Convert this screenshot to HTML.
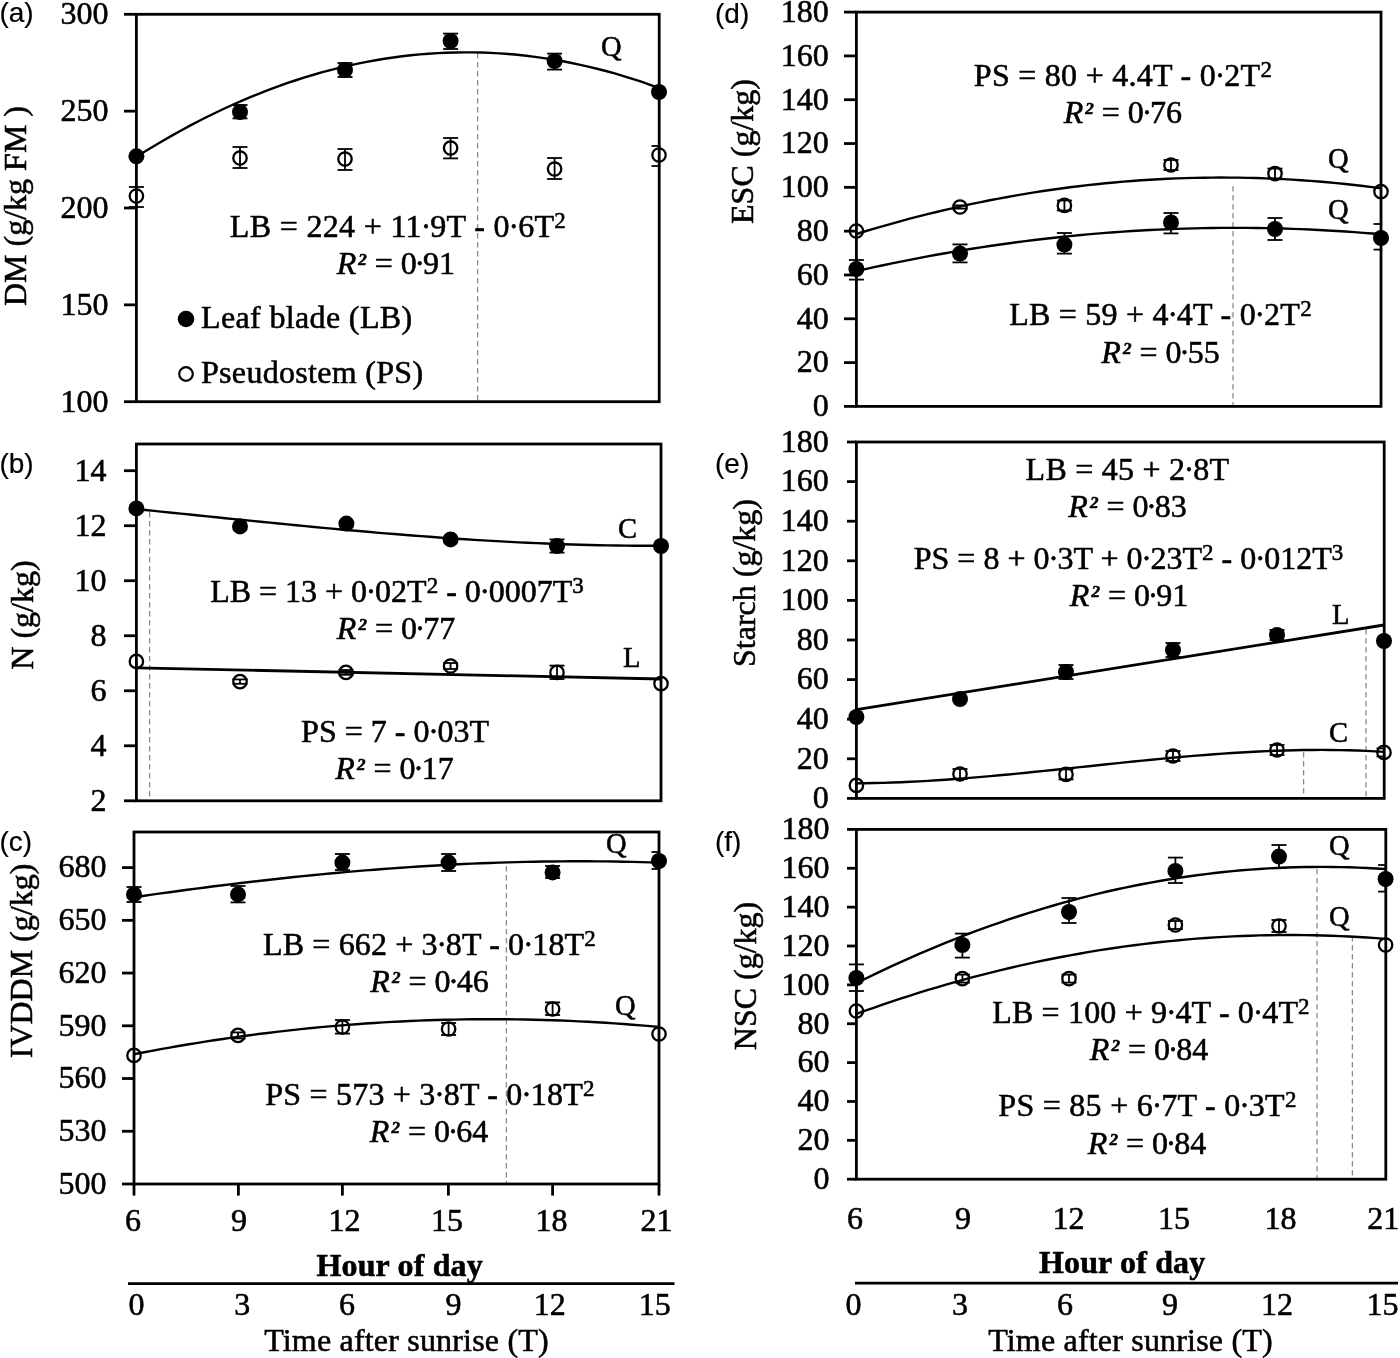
<!DOCTYPE html>
<html>
<head>
<meta charset="utf-8">
<title>Diurnal variation chart</title>
<style>
html,body{margin:0;padding:0;background:#fff;}
body{width:1400px;height:1358px;overflow:hidden;font-family:"Liberation Serif", serif;}
svg{display:block;filter:blur(0.45px);}
svg text{font-family:"Liberation Serif", serif;fill:#000;stroke:#000;stroke-width:0.55px;}
svg text.sans{font-family:"Liberation Sans", sans-serif;stroke-width:0.2px;}
</style>
</head>
<body>
<svg width="1400" height="1358" viewBox="0 0 1400 1358">
<rect x="0" y="0" width="1400" height="1358" fill="#fff"/>
<line x1="477.6" y1="53" x2="477.6" y2="401.7" stroke="#8a8a8a" stroke-width="1.3" stroke-dasharray="5.5 3.5"/>
<path d="M136.4,156.87 L145.26,151.33 L154.12,145.94 L162.97,140.71 L171.83,135.62 L180.69,130.69 L189.55,125.9 L198.4,121.27 L207.26,116.79 L216.12,112.46 L224.98,108.28 L233.83,104.24 L242.69,100.36 L251.55,96.64 L260.41,93.06 L269.26,89.63 L278.12,86.35 L286.98,83.22 L295.84,80.25 L304.69,77.42 L313.55,74.75 L322.41,72.22 L331.27,69.85 L340.13,67.63 L348.98,65.56 L357.84,63.64 L366.7,61.86 L375.56,60.24 L384.41,58.78 L393.27,57.46 L402.13,56.29 L410.99,55.27 L419.84,54.41 L428.7,53.69 L437.56,53.12 L446.42,52.71 L455.27,52.45 L464.13,52.33 L472.99,52.37 L481.85,52.56 L490.71,52.9 L499.56,53.39 L508.42,54.03 L517.28,54.82 L526.14,55.76 L534.99,56.85 L543.85,58.09 L552.71,59.49 L561.57,61.03 L570.42,62.72 L579.28,64.57 L588.14,66.57 L597,68.71 L605.85,71.01 L614.71,73.46 L623.57,76.06 L632.43,78.81 L641.28,81.71 L650.14,84.76 L659,87.96" fill="none" stroke="#000" stroke-width="2.4" stroke-linejoin="round"/>
<rect x="136.4" y="14.3" width="522.8" height="387.4" fill="none" stroke="#000" stroke-width="2.8"/>
<line x1="124" y1="14.3" x2="136.4" y2="14.3" stroke="#000" stroke-width="2.8" />
<text x="108.6" y="24.1" font-size="32" text-anchor="end" font-weight="normal" font-style="normal" >300</text>
<line x1="124" y1="111.15" x2="136.4" y2="111.15" stroke="#000" stroke-width="2.8" />
<text x="108.6" y="120.95" font-size="32" text-anchor="end" font-weight="normal" font-style="normal" >250</text>
<line x1="124" y1="208" x2="136.4" y2="208" stroke="#000" stroke-width="2.8" />
<text x="108.6" y="217.8" font-size="32" text-anchor="end" font-weight="normal" font-style="normal" >200</text>
<line x1="124" y1="304.85" x2="136.4" y2="304.85" stroke="#000" stroke-width="2.8" />
<text x="108.6" y="314.65" font-size="32" text-anchor="end" font-weight="normal" font-style="normal" >150</text>
<line x1="124" y1="401.7" x2="136.4" y2="401.7" stroke="#000" stroke-width="2.8" />
<text x="108.6" y="411.5" font-size="32" text-anchor="end" font-weight="normal" font-style="normal" >100</text>
<circle cx="136.4" cy="196" r="6.7" fill="none" stroke="#000" stroke-width="2.3"/>
<line x1="136.4" y1="187" x2="136.4" y2="207" stroke="#000" stroke-width="1.8" />
<line x1="128.9" y1="187" x2="143.9" y2="187" stroke="#000" stroke-width="1.8" />
<line x1="128.9" y1="207" x2="143.9" y2="207" stroke="#000" stroke-width="1.8" />
<circle cx="240" cy="158" r="6.7" fill="none" stroke="#000" stroke-width="2.3"/>
<line x1="240" y1="147" x2="240" y2="168" stroke="#000" stroke-width="1.8" />
<line x1="232.5" y1="147" x2="247.5" y2="147" stroke="#000" stroke-width="1.8" />
<line x1="232.5" y1="168" x2="247.5" y2="168" stroke="#000" stroke-width="1.8" />
<circle cx="345" cy="159" r="6.7" fill="none" stroke="#000" stroke-width="2.3"/>
<line x1="345" y1="149" x2="345" y2="170" stroke="#000" stroke-width="1.8" />
<line x1="337.5" y1="149" x2="352.5" y2="149" stroke="#000" stroke-width="1.8" />
<line x1="337.5" y1="170" x2="352.5" y2="170" stroke="#000" stroke-width="1.8" />
<circle cx="450.6" cy="148" r="6.7" fill="none" stroke="#000" stroke-width="2.3"/>
<line x1="450.6" y1="138" x2="450.6" y2="158.4" stroke="#000" stroke-width="1.8" />
<line x1="443.1" y1="138" x2="458.1" y2="138" stroke="#000" stroke-width="1.8" />
<line x1="443.1" y1="158.4" x2="458.1" y2="158.4" stroke="#000" stroke-width="1.8" />
<circle cx="554.6" cy="169" r="6.7" fill="none" stroke="#000" stroke-width="2.3"/>
<line x1="554.6" y1="158" x2="554.6" y2="179" stroke="#000" stroke-width="1.8" />
<line x1="547.1" y1="158" x2="562.1" y2="158" stroke="#000" stroke-width="1.8" />
<line x1="547.1" y1="179" x2="562.1" y2="179" stroke="#000" stroke-width="1.8" />
<circle cx="659" cy="155" r="6.7" fill="none" stroke="#000" stroke-width="2.3"/>
<line x1="659" y1="146" x2="659" y2="166" stroke="#000" stroke-width="1.8" />
<line x1="651.5" y1="146" x2="660.4" y2="146" stroke="#000" stroke-width="1.8" />
<line x1="651.5" y1="166" x2="660.4" y2="166" stroke="#000" stroke-width="1.8" />
<circle cx="136.4" cy="156.3" r="8.0" fill="#000"/>
<line x1="240" y1="105" x2="240" y2="118.4" stroke="#000" stroke-width="1.8" />
<line x1="232.5" y1="105" x2="247.5" y2="105" stroke="#000" stroke-width="1.8" />
<line x1="232.5" y1="118.4" x2="247.5" y2="118.4" stroke="#000" stroke-width="1.8" />
<circle cx="240" cy="112" r="8.0" fill="#000"/>
<line x1="345" y1="63" x2="345" y2="77" stroke="#000" stroke-width="1.8" />
<line x1="337.5" y1="63" x2="352.5" y2="63" stroke="#000" stroke-width="1.8" />
<line x1="337.5" y1="77" x2="352.5" y2="77" stroke="#000" stroke-width="1.8" />
<circle cx="345" cy="70" r="8.0" fill="#000"/>
<line x1="450.6" y1="33.6" x2="450.6" y2="49" stroke="#000" stroke-width="1.8" />
<line x1="443.1" y1="33.6" x2="458.1" y2="33.6" stroke="#000" stroke-width="1.8" />
<line x1="443.1" y1="49" x2="458.1" y2="49" stroke="#000" stroke-width="1.8" />
<circle cx="450.6" cy="41" r="8.0" fill="#000"/>
<line x1="554.6" y1="53.6" x2="554.6" y2="69.6" stroke="#000" stroke-width="1.8" />
<line x1="547.1" y1="53.6" x2="562.1" y2="53.6" stroke="#000" stroke-width="1.8" />
<line x1="547.1" y1="69.6" x2="562.1" y2="69.6" stroke="#000" stroke-width="1.8" />
<circle cx="554.6" cy="61" r="8.0" fill="#000"/>
<circle cx="659" cy="92" r="8.0" fill="#000"/>
<text x="601" y="56" font-size="28.5" text-anchor="start" font-weight="normal" font-style="normal" >Q</text>
<text x="398" y="237" font-size="32" text-anchor="middle" font-weight="normal" font-style="normal"  style="letter-spacing:0.33px">LB = 224 + 11&#8729;9T - 0&#8729;6T<tspan font-size="23" dy="-9">2</tspan><tspan dy="9" font-size="1">&#8203;</tspan></text>
<text x="395.8" y="274" font-size="32" text-anchor="middle" font-weight="normal" font-style="normal" ><tspan font-style="italic">R</tspan><tspan font-style="italic" font-weight="bold" font-size="17" dx="2" dy="-9">2</tspan><tspan dy="9"> = 0</tspan><tspan dx="-0.9">&#8729;</tspan><tspan dx="-0.9">91</tspan></text>
<circle cx="186" cy="319" r="8.3" fill="#000"/>
<text x="201" y="328" font-size="32" text-anchor="start" font-weight="normal" font-style="normal"  style="letter-spacing:0.36px">Leaf blade (LB)</text>
<circle cx="186" cy="374" r="6.8" fill="none" stroke="#000" stroke-width="2.2"/>
<text x="201" y="383" font-size="32" text-anchor="start" font-weight="normal" font-style="normal"  style="letter-spacing:0.31px">Pseudostem (PS)</text>
<text transform="translate(25.6,206) rotate(-90)" font-size="32" text-anchor="middle">DM (g/kg FM )</text>
<text x="-0.6" y="22.2" font-size="28" class="sans">(a)</text>
<line x1="149.6" y1="512" x2="149.6" y2="800.8" stroke="#8a8a8a" stroke-width="1.3" stroke-dasharray="5.5 3.5"/>
<path d="M136.4,509.09 L145.29,509.99 L154.18,510.91 L163.07,511.82 L171.97,512.73 L180.86,513.65 L189.75,514.56 L198.64,515.48 L207.53,516.39 L216.42,517.3 L225.32,518.21 L234.21,519.11 L243.1,520.01 L251.99,520.91 L260.88,521.8 L269.77,522.68 L278.66,523.56 L287.56,524.43 L296.45,525.29 L305.34,526.14 L314.23,526.99 L323.12,527.82 L332.01,528.65 L340.91,529.46 L349.8,530.26 L358.69,531.05 L367.58,531.82 L376.47,532.58 L385.36,533.33 L394.25,534.06 L403.15,534.78 L412.04,535.48 L420.93,536.16 L429.82,536.82 L438.71,537.47 L447.6,538.09 L456.49,538.7 L465.39,539.29 L474.28,539.85 L483.17,540.4 L492.06,540.92 L500.95,541.42 L509.84,541.89 L518.74,542.34 L527.63,542.77 L536.52,543.17 L545.41,543.54 L554.3,543.89 L563.19,544.21 L572.08,544.5 L580.98,544.76 L589.87,544.99 L598.76,545.19 L607.65,545.36 L616.54,545.5 L625.43,545.61 L634.33,545.69 L643.22,545.73 L652.11,545.73 L661,545.71" fill="none" stroke="#000" stroke-width="2.4" stroke-linejoin="round"/>
<line x1="136.4" y1="667.8" x2="661" y2="679" stroke="#000" stroke-width="2.8" />
<rect x="136.4" y="444" width="524.6" height="356.8" fill="none" stroke="#000" stroke-width="2.8"/>
<line x1="124" y1="470.7" x2="136.4" y2="470.7" stroke="#000" stroke-width="2.8" />
<text x="106.5" y="480.5" font-size="32" text-anchor="end" font-weight="normal" font-style="normal" >14</text>
<line x1="124" y1="525.72" x2="136.4" y2="525.72" stroke="#000" stroke-width="2.8" />
<text x="106.5" y="535.52" font-size="32" text-anchor="end" font-weight="normal" font-style="normal" >12</text>
<line x1="124" y1="580.73" x2="136.4" y2="580.73" stroke="#000" stroke-width="2.8" />
<text x="106.5" y="590.53" font-size="32" text-anchor="end" font-weight="normal" font-style="normal" >10</text>
<line x1="124" y1="635.75" x2="136.4" y2="635.75" stroke="#000" stroke-width="2.8" />
<text x="106.5" y="645.55" font-size="32" text-anchor="end" font-weight="normal" font-style="normal" >8</text>
<line x1="124" y1="690.77" x2="136.4" y2="690.77" stroke="#000" stroke-width="2.8" />
<text x="106.5" y="700.57" font-size="32" text-anchor="end" font-weight="normal" font-style="normal" >6</text>
<line x1="124" y1="745.78" x2="136.4" y2="745.78" stroke="#000" stroke-width="2.8" />
<text x="106.5" y="755.58" font-size="32" text-anchor="end" font-weight="normal" font-style="normal" >4</text>
<line x1="124" y1="800.8" x2="136.4" y2="800.8" stroke="#000" stroke-width="2.8" />
<text x="106.5" y="810.6" font-size="32" text-anchor="end" font-weight="normal" font-style="normal" >2</text>
<circle cx="136.4" cy="661.4" r="6.7" fill="none" stroke="#000" stroke-width="2.3"/>
<circle cx="240" cy="681.6" r="6.7" fill="none" stroke="#000" stroke-width="2.3"/>
<line x1="240" y1="679.4" x2="240" y2="683.8" stroke="#000" stroke-width="1.8" />
<line x1="232.5" y1="679.4" x2="247.5" y2="679.4" stroke="#000" stroke-width="1.8" />
<line x1="232.5" y1="683.8" x2="247.5" y2="683.8" stroke="#000" stroke-width="1.8" />
<circle cx="346" cy="672.4" r="6.7" fill="none" stroke="#000" stroke-width="2.3"/>
<line x1="346" y1="670" x2="346" y2="674.8" stroke="#000" stroke-width="1.8" />
<line x1="338.5" y1="670" x2="353.5" y2="670" stroke="#000" stroke-width="1.8" />
<line x1="338.5" y1="674.8" x2="353.5" y2="674.8" stroke="#000" stroke-width="1.8" />
<circle cx="450.6" cy="666" r="6.7" fill="none" stroke="#000" stroke-width="2.3"/>
<line x1="450.6" y1="663" x2="450.6" y2="669" stroke="#000" stroke-width="1.8" />
<line x1="443.1" y1="663" x2="458.1" y2="663" stroke="#000" stroke-width="1.8" />
<line x1="443.1" y1="669" x2="458.1" y2="669" stroke="#000" stroke-width="1.8" />
<circle cx="557" cy="672.4" r="6.7" fill="none" stroke="#000" stroke-width="2.3"/>
<line x1="557" y1="665.6" x2="557" y2="679" stroke="#000" stroke-width="1.8" />
<line x1="549.5" y1="665.6" x2="564.5" y2="665.6" stroke="#000" stroke-width="1.8" />
<line x1="549.5" y1="679" x2="564.5" y2="679" stroke="#000" stroke-width="1.8" />
<circle cx="661" cy="683.6" r="6.7" fill="none" stroke="#000" stroke-width="2.3"/>
<circle cx="136.4" cy="508.4" r="8.0" fill="#000"/>
<circle cx="240" cy="526.4" r="8.0" fill="#000"/>
<circle cx="346.4" cy="523.6" r="8.0" fill="#000"/>
<circle cx="450.6" cy="539.4" r="8.0" fill="#000"/>
<line x1="557" y1="539.4" x2="557" y2="552.6" stroke="#000" stroke-width="1.8" />
<line x1="549.5" y1="539.4" x2="564.5" y2="539.4" stroke="#000" stroke-width="1.8" />
<line x1="549.5" y1="552.6" x2="564.5" y2="552.6" stroke="#000" stroke-width="1.8" />
<circle cx="557" cy="546" r="8.0" fill="#000"/>
<circle cx="661" cy="546" r="8.0" fill="#000"/>
<text x="618" y="538" font-size="28.5" text-anchor="start" font-weight="normal" font-style="normal" >C</text>
<text x="623" y="666.5" font-size="28.5" text-anchor="start" font-weight="normal" font-style="normal" >L</text>
<text x="397" y="602" font-size="32" text-anchor="middle" font-weight="normal" font-style="normal" >LB = 13 + 0&#8729;02T<tspan font-size="23" dy="-9">2</tspan><tspan dy="9" font-size="1">&#8203;</tspan> - 0&#8729;0007T<tspan font-size="23" dy="-9">3</tspan><tspan dy="9" font-size="1">&#8203;</tspan></text>
<text x="396" y="639" font-size="32" text-anchor="middle" font-weight="normal" font-style="normal" ><tspan font-style="italic">R</tspan><tspan font-style="italic" font-weight="bold" font-size="17" dx="2" dy="-9">2</tspan><tspan dy="9"> = 0</tspan><tspan dx="-0.9">&#8729;</tspan><tspan dx="-0.9">77</tspan></text>
<text x="395" y="741.6" font-size="32" text-anchor="middle" font-weight="normal" font-style="normal" >PS = 7 - 0&#8729;03T</text>
<text x="394.5" y="779" font-size="32" text-anchor="middle" font-weight="normal" font-style="normal" ><tspan font-style="italic">R</tspan><tspan font-style="italic" font-weight="bold" font-size="17" dx="2" dy="-9">2</tspan><tspan dy="9"> = 0</tspan><tspan dx="-0.9">&#8729;</tspan><tspan dx="-0.9">17</tspan></text>
<text transform="translate(33,615) rotate(-90)" font-size="32" text-anchor="middle">N (g/kg)</text>
<text x="-0.6" y="472.8" font-size="28" class="sans">(b)</text>
<line x1="506.4" y1="866" x2="506.4" y2="1184" stroke="#8a8a8a" stroke-width="1.3" stroke-dasharray="5.5 3.5"/>
<path d="M134,897.24 L142.9,895.95 L151.8,894.68 L160.69,893.43 L169.59,892.19 L178.49,890.98 L187.39,889.78 L196.29,888.61 L205.19,887.45 L214.08,886.31 L222.98,885.2 L231.88,884.1 L240.78,883.03 L249.68,881.98 L258.58,880.95 L267.47,879.94 L276.37,878.95 L285.27,877.99 L294.17,877.05 L303.07,876.14 L311.97,875.25 L320.86,874.38 L329.76,873.53 L338.66,872.72 L347.56,871.92 L356.46,871.16 L365.36,870.41 L374.25,869.7 L383.15,869.01 L392.05,868.35 L400.95,867.71 L409.85,867.11 L418.75,866.53 L427.64,865.98 L436.54,865.46 L445.44,864.96 L454.34,864.5 L463.24,864.06 L472.14,863.66 L481.03,863.29 L489.93,862.94 L498.83,862.63 L507.73,862.35 L516.63,862.1 L525.53,861.88 L534.42,861.7 L543.32,861.55 L552.22,861.43 L561.12,861.34 L570.02,861.29 L578.92,861.27 L587.81,861.28 L596.71,861.34 L605.61,861.42 L614.51,861.54 L623.41,861.7 L632.31,861.89 L641.2,862.12 L650.1,862.39 L659,862.69" fill="none" stroke="#000" stroke-width="2.4" stroke-linejoin="round"/>
<path d="M134,1054.23 L142.9,1052.5 L151.8,1050.82 L160.69,1049.19 L169.59,1047.59 L178.49,1046.04 L187.39,1044.54 L196.29,1043.07 L205.19,1041.65 L214.08,1040.28 L222.98,1038.95 L231.88,1037.66 L240.78,1036.41 L249.68,1035.21 L258.58,1034.05 L267.47,1032.94 L276.37,1031.86 L285.27,1030.84 L294.17,1029.85 L303.07,1028.91 L311.97,1028.01 L320.86,1027.16 L329.76,1026.35 L338.66,1025.58 L347.56,1024.86 L356.46,1024.18 L365.36,1023.54 L374.25,1022.95 L383.15,1022.4 L392.05,1021.9 L400.95,1021.44 L409.85,1021.02 L418.75,1020.64 L427.64,1020.31 L436.54,1020.02 L445.44,1019.78 L454.34,1019.58 L463.24,1019.42 L472.14,1019.31 L481.03,1019.23 L489.93,1019.21 L498.83,1019.22 L507.73,1019.28 L516.63,1019.39 L525.53,1019.54 L534.42,1019.73 L543.32,1019.96 L552.22,1020.24 L561.12,1020.56 L570.02,1020.92 L578.92,1021.33 L587.81,1021.78 L596.71,1022.28 L605.61,1022.82 L614.51,1023.4 L623.41,1024.03 L632.31,1024.7 L641.2,1025.41 L650.1,1026.17 L659,1026.97" fill="none" stroke="#000" stroke-width="2.4" stroke-linejoin="round"/>
<rect x="134" y="832" width="525" height="352" fill="none" stroke="#000" stroke-width="2.8"/>
<line x1="122" y1="867.6" x2="134" y2="867.6" stroke="#000" stroke-width="2.8" />
<text x="106.5" y="877.4" font-size="32" text-anchor="end" font-weight="normal" font-style="normal" >680</text>
<line x1="122" y1="920.33" x2="134" y2="920.33" stroke="#000" stroke-width="2.8" />
<text x="106.5" y="930.13" font-size="32" text-anchor="end" font-weight="normal" font-style="normal" >650</text>
<line x1="122" y1="973.07" x2="134" y2="973.07" stroke="#000" stroke-width="2.8" />
<text x="106.5" y="982.87" font-size="32" text-anchor="end" font-weight="normal" font-style="normal" >620</text>
<line x1="122" y1="1025.8" x2="134" y2="1025.8" stroke="#000" stroke-width="2.8" />
<text x="106.5" y="1035.6" font-size="32" text-anchor="end" font-weight="normal" font-style="normal" >590</text>
<line x1="122" y1="1078.53" x2="134" y2="1078.53" stroke="#000" stroke-width="2.8" />
<text x="106.5" y="1088.33" font-size="32" text-anchor="end" font-weight="normal" font-style="normal" >560</text>
<line x1="122" y1="1131.27" x2="134" y2="1131.27" stroke="#000" stroke-width="2.8" />
<text x="106.5" y="1141.07" font-size="32" text-anchor="end" font-weight="normal" font-style="normal" >530</text>
<line x1="122" y1="1184" x2="134" y2="1184" stroke="#000" stroke-width="2.8" />
<text x="106.5" y="1193.8" font-size="32" text-anchor="end" font-weight="normal" font-style="normal" >500</text>
<line x1="134" y1="1184" x2="134" y2="1195.6" stroke="#000" stroke-width="2.8" />
<line x1="238.4" y1="1184" x2="238.4" y2="1195.6" stroke="#000" stroke-width="2.8" />
<line x1="342.4" y1="1184" x2="342.4" y2="1195.6" stroke="#000" stroke-width="2.8" />
<line x1="448.4" y1="1184" x2="448.4" y2="1195.6" stroke="#000" stroke-width="2.8" />
<line x1="552.6" y1="1184" x2="552.6" y2="1195.6" stroke="#000" stroke-width="2.8" />
<line x1="659" y1="1184" x2="659" y2="1195.6" stroke="#000" stroke-width="2.8" />
<text x="133" y="1231.4" font-size="32" text-anchor="middle" font-weight="normal" font-style="normal" >6</text>
<text x="238.9" y="1231.4" font-size="32" text-anchor="middle" font-weight="normal" font-style="normal" >9</text>
<text x="344.4" y="1231.4" font-size="32" text-anchor="middle" font-weight="normal" font-style="normal" >12</text>
<text x="447" y="1231.4" font-size="32" text-anchor="middle" font-weight="normal" font-style="normal" >15</text>
<text x="551.6" y="1231.4" font-size="32" text-anchor="middle" font-weight="normal" font-style="normal" >18</text>
<text x="656.5" y="1231.4" font-size="32" text-anchor="middle" font-weight="normal" font-style="normal" >21</text>
<circle cx="134" cy="1055.4" r="6.7" fill="none" stroke="#000" stroke-width="2.3"/>
<circle cx="238" cy="1035.4" r="6.7" fill="none" stroke="#000" stroke-width="2.3"/>
<line x1="238" y1="1032.4" x2="238" y2="1038.4" stroke="#000" stroke-width="1.8" />
<line x1="230.5" y1="1032.4" x2="245.5" y2="1032.4" stroke="#000" stroke-width="1.8" />
<line x1="230.5" y1="1038.4" x2="245.5" y2="1038.4" stroke="#000" stroke-width="1.8" />
<circle cx="342.4" cy="1027" r="6.7" fill="none" stroke="#000" stroke-width="2.3"/>
<line x1="342.4" y1="1020" x2="342.4" y2="1033.6" stroke="#000" stroke-width="1.8" />
<line x1="334.9" y1="1020" x2="349.9" y2="1020" stroke="#000" stroke-width="1.8" />
<line x1="334.9" y1="1033.6" x2="349.9" y2="1033.6" stroke="#000" stroke-width="1.8" />
<circle cx="448.6" cy="1029" r="6.7" fill="none" stroke="#000" stroke-width="2.3"/>
<line x1="448.6" y1="1023" x2="448.6" y2="1035" stroke="#000" stroke-width="1.8" />
<line x1="441.1" y1="1023" x2="456.1" y2="1023" stroke="#000" stroke-width="1.8" />
<line x1="441.1" y1="1035" x2="456.1" y2="1035" stroke="#000" stroke-width="1.8" />
<circle cx="552.6" cy="1009" r="6.7" fill="none" stroke="#000" stroke-width="2.3"/>
<line x1="552.6" y1="1002.4" x2="552.6" y2="1015" stroke="#000" stroke-width="1.8" />
<line x1="545.1" y1="1002.4" x2="560.1" y2="1002.4" stroke="#000" stroke-width="1.8" />
<line x1="545.1" y1="1015" x2="560.1" y2="1015" stroke="#000" stroke-width="1.8" />
<circle cx="659" cy="1034" r="6.7" fill="none" stroke="#000" stroke-width="2.3"/>
<line x1="134" y1="887" x2="134" y2="902" stroke="#000" stroke-width="1.8" />
<line x1="126.5" y1="887" x2="141.5" y2="887" stroke="#000" stroke-width="1.8" />
<line x1="126.5" y1="902" x2="141.5" y2="902" stroke="#000" stroke-width="1.8" />
<circle cx="134" cy="894.4" r="8.0" fill="#000"/>
<line x1="238" y1="886" x2="238" y2="902.4" stroke="#000" stroke-width="1.8" />
<line x1="230.5" y1="886" x2="245.5" y2="886" stroke="#000" stroke-width="1.8" />
<line x1="230.5" y1="902.4" x2="245.5" y2="902.4" stroke="#000" stroke-width="1.8" />
<circle cx="238" cy="894.4" r="8.0" fill="#000"/>
<line x1="342.4" y1="854" x2="342.4" y2="870" stroke="#000" stroke-width="1.8" />
<line x1="334.9" y1="854" x2="349.9" y2="854" stroke="#000" stroke-width="1.8" />
<line x1="334.9" y1="870" x2="349.9" y2="870" stroke="#000" stroke-width="1.8" />
<circle cx="342.4" cy="862.6" r="8.0" fill="#000"/>
<line x1="448.6" y1="854" x2="448.6" y2="871" stroke="#000" stroke-width="1.8" />
<line x1="441.1" y1="854" x2="456.1" y2="854" stroke="#000" stroke-width="1.8" />
<line x1="441.1" y1="871" x2="456.1" y2="871" stroke="#000" stroke-width="1.8" />
<circle cx="448.6" cy="862.6" r="8.0" fill="#000"/>
<line x1="552.6" y1="866" x2="552.6" y2="878" stroke="#000" stroke-width="1.8" />
<line x1="545.1" y1="866" x2="560.1" y2="866" stroke="#000" stroke-width="1.8" />
<line x1="545.1" y1="878" x2="560.1" y2="878" stroke="#000" stroke-width="1.8" />
<circle cx="552.6" cy="872.4" r="8.0" fill="#000"/>
<line x1="659" y1="852" x2="659" y2="869" stroke="#000" stroke-width="1.8" />
<line x1="651.5" y1="852" x2="660.2" y2="852" stroke="#000" stroke-width="1.8" />
<line x1="651.5" y1="869" x2="660.2" y2="869" stroke="#000" stroke-width="1.8" />
<circle cx="659" cy="861" r="8.0" fill="#000"/>
<text x="606" y="853" font-size="28.5" text-anchor="start" font-weight="normal" font-style="normal" >Q</text>
<text x="615" y="1015" font-size="28.5" text-anchor="start" font-weight="normal" font-style="normal" >Q</text>
<text x="429.5" y="955" font-size="32" text-anchor="middle" font-weight="normal" font-style="normal"  style="letter-spacing:0.13px">LB = 662 + 3&#8729;8T - 0&#8729;18T<tspan font-size="23" dy="-9">2</tspan><tspan dy="9" font-size="1">&#8203;</tspan></text>
<text x="429.5" y="992" font-size="32" text-anchor="middle" font-weight="normal" font-style="normal" ><tspan font-style="italic">R</tspan><tspan font-style="italic" font-weight="bold" font-size="17" dx="2" dy="-9">2</tspan><tspan dy="9"> = 0</tspan><tspan dx="-0.9">&#8729;</tspan><tspan dx="-0.9">46</tspan></text>
<text x="430" y="1105" font-size="32" text-anchor="middle" font-weight="normal" font-style="normal"  style="letter-spacing:0.21px">PS = 573 + 3&#8729;8T - 0&#8729;18T<tspan font-size="23" dy="-9">2</tspan><tspan dy="9" font-size="1">&#8203;</tspan></text>
<text x="429" y="1142.4" font-size="32" text-anchor="middle" font-weight="normal" font-style="normal" ><tspan font-style="italic">R</tspan><tspan font-style="italic" font-weight="bold" font-size="17" dx="2" dy="-9">2</tspan><tspan dy="9"> = 0</tspan><tspan dx="-0.9">&#8729;</tspan><tspan dx="-0.9">64</tspan></text>
<text transform="translate(31.8,961) rotate(-90)" font-size="32" text-anchor="middle">IVDDM (g/kg)</text>
<text x="-0.6" y="850.9" font-size="28" class="sans">(c)</text>
<line x1="1233" y1="186" x2="1233" y2="406.4" stroke="#8a8a8a" stroke-width="1.3" stroke-dasharray="5.5 3.5"/>
<path d="M856.4,233.98 L865.29,231.27 L874.18,228.62 L883.07,226.04 L891.97,223.53 L900.86,221.09 L909.75,218.71 L918.64,216.39 L927.53,214.15 L936.42,211.97 L945.32,209.86 L954.21,207.81 L963.1,205.84 L971.99,203.93 L980.88,202.08 L989.77,200.3 L998.66,198.59 L1007.56,196.95 L1016.45,195.37 L1025.34,193.86 L1034.23,192.42 L1043.12,191.04 L1052.01,189.73 L1060.91,188.49 L1069.8,187.31 L1078.69,186.21 L1087.58,185.16 L1096.47,184.19 L1105.36,183.28 L1114.25,182.44 L1123.15,181.66 L1132.04,180.95 L1140.93,180.31 L1149.82,179.74 L1158.71,179.23 L1167.6,178.79 L1176.49,178.42 L1185.39,178.11 L1194.28,177.87 L1203.17,177.7 L1212.06,177.59 L1220.95,177.55 L1229.84,177.58 L1238.74,177.67 L1247.63,177.83 L1256.52,178.06 L1265.41,178.35 L1274.3,178.72 L1283.19,179.14 L1292.08,179.64 L1300.98,180.2 L1309.87,180.83 L1318.76,181.53 L1327.65,182.29 L1336.54,183.12 L1345.43,184.01 L1354.33,184.98 L1363.22,186.01 L1372.11,187.1 L1381,188.27" fill="none" stroke="#000" stroke-width="2.4" stroke-linejoin="round"/>
<path d="M856.4,271.17 L865.29,269.16 L874.18,267.19 L883.07,265.28 L891.97,263.41 L900.86,261.59 L909.75,259.81 L918.64,258.09 L927.53,256.41 L936.42,254.78 L945.32,253.2 L954.21,251.67 L963.1,250.18 L971.99,248.74 L980.88,247.35 L989.77,246.01 L998.66,244.71 L1007.56,243.47 L1016.45,242.27 L1025.34,241.12 L1034.23,240.01 L1043.12,238.96 L1052.01,237.95 L1060.91,236.99 L1069.8,236.08 L1078.69,235.22 L1087.58,234.4 L1096.47,233.63 L1105.36,232.91 L1114.25,232.24 L1123.15,231.61 L1132.04,231.04 L1140.93,230.51 L1149.82,230.03 L1158.71,229.59 L1167.6,229.21 L1176.49,228.87 L1185.39,228.58 L1194.28,228.34 L1203.17,228.14 L1212.06,228 L1220.95,227.9 L1229.84,227.85 L1238.74,227.85 L1247.63,227.89 L1256.52,227.98 L1265.41,228.13 L1274.3,228.31 L1283.19,228.55 L1292.08,228.83 L1300.98,229.17 L1309.87,229.55 L1318.76,229.97 L1327.65,230.45 L1336.54,230.97 L1345.43,231.55 L1354.33,232.16 L1363.22,232.83 L1372.11,233.55 L1381,234.31" fill="none" stroke="#000" stroke-width="2.4" stroke-linejoin="round"/>
<rect x="856.4" y="12.1" width="524.6" height="394.3" fill="none" stroke="#000" stroke-width="2.8"/>
<line x1="844" y1="12.1" x2="856.4" y2="12.1" stroke="#000" stroke-width="2.8" />
<text x="828.7" y="21.9" font-size="32" text-anchor="end" font-weight="normal" font-style="normal" >180</text>
<line x1="844" y1="55.91" x2="856.4" y2="55.91" stroke="#000" stroke-width="2.8" />
<text x="828.7" y="65.71" font-size="32" text-anchor="end" font-weight="normal" font-style="normal" >160</text>
<line x1="844" y1="99.72" x2="856.4" y2="99.72" stroke="#000" stroke-width="2.8" />
<text x="828.7" y="109.52" font-size="32" text-anchor="end" font-weight="normal" font-style="normal" >140</text>
<line x1="844" y1="143.53" x2="856.4" y2="143.53" stroke="#000" stroke-width="2.8" />
<text x="828.7" y="153.33" font-size="32" text-anchor="end" font-weight="normal" font-style="normal" >120</text>
<line x1="844" y1="187.34" x2="856.4" y2="187.34" stroke="#000" stroke-width="2.8" />
<text x="828.7" y="197.14" font-size="32" text-anchor="end" font-weight="normal" font-style="normal" >100</text>
<line x1="844" y1="231.16" x2="856.4" y2="231.16" stroke="#000" stroke-width="2.8" />
<text x="828.7" y="240.96" font-size="32" text-anchor="end" font-weight="normal" font-style="normal" >80</text>
<line x1="844" y1="274.97" x2="856.4" y2="274.97" stroke="#000" stroke-width="2.8" />
<text x="828.7" y="284.77" font-size="32" text-anchor="end" font-weight="normal" font-style="normal" >60</text>
<line x1="844" y1="318.78" x2="856.4" y2="318.78" stroke="#000" stroke-width="2.8" />
<text x="828.7" y="328.58" font-size="32" text-anchor="end" font-weight="normal" font-style="normal" >40</text>
<line x1="844" y1="362.59" x2="856.4" y2="362.59" stroke="#000" stroke-width="2.8" />
<text x="828.7" y="372.39" font-size="32" text-anchor="end" font-weight="normal" font-style="normal" >20</text>
<line x1="844" y1="406.4" x2="856.4" y2="406.4" stroke="#000" stroke-width="2.8" />
<text x="828.7" y="416.2" font-size="32" text-anchor="end" font-weight="normal" font-style="normal" >0</text>
<circle cx="856.4" cy="231" r="6.7" fill="none" stroke="#000" stroke-width="2.3"/>
<circle cx="960" cy="207" r="6.7" fill="none" stroke="#000" stroke-width="2.3"/>
<line x1="960" y1="205.4" x2="960" y2="208.6" stroke="#000" stroke-width="1.8" />
<line x1="952.5" y1="205.4" x2="967.5" y2="205.4" stroke="#000" stroke-width="1.8" />
<line x1="952.5" y1="208.6" x2="967.5" y2="208.6" stroke="#000" stroke-width="1.8" />
<circle cx="1064.4" cy="205.4" r="6.7" fill="none" stroke="#000" stroke-width="2.3"/>
<line x1="1064.4" y1="200.5" x2="1064.4" y2="210.5" stroke="#000" stroke-width="1.8" />
<line x1="1056.9" y1="200.5" x2="1071.9" y2="200.5" stroke="#000" stroke-width="1.8" />
<line x1="1056.9" y1="210.5" x2="1071.9" y2="210.5" stroke="#000" stroke-width="1.8" />
<circle cx="1171" cy="165" r="6.7" fill="none" stroke="#000" stroke-width="2.3"/>
<line x1="1171" y1="160" x2="1171" y2="170" stroke="#000" stroke-width="1.8" />
<line x1="1163.5" y1="160" x2="1178.5" y2="160" stroke="#000" stroke-width="1.8" />
<line x1="1163.5" y1="170" x2="1178.5" y2="170" stroke="#000" stroke-width="1.8" />
<circle cx="1275" cy="173.6" r="6.7" fill="none" stroke="#000" stroke-width="2.3"/>
<line x1="1275" y1="168.6" x2="1275" y2="178.6" stroke="#000" stroke-width="1.8" />
<line x1="1267.5" y1="168.6" x2="1282.5" y2="168.6" stroke="#000" stroke-width="1.8" />
<line x1="1267.5" y1="178.6" x2="1282.5" y2="178.6" stroke="#000" stroke-width="1.8" />
<circle cx="1381" cy="191.6" r="6.7" fill="none" stroke="#000" stroke-width="2.3"/>
<line x1="856.4" y1="260" x2="856.4" y2="279.6" stroke="#000" stroke-width="1.8" />
<line x1="848.9" y1="260" x2="863.9" y2="260" stroke="#000" stroke-width="1.8" />
<line x1="848.9" y1="279.6" x2="863.9" y2="279.6" stroke="#000" stroke-width="1.8" />
<circle cx="856.4" cy="269" r="8.0" fill="#000"/>
<line x1="960" y1="244.4" x2="960" y2="262.4" stroke="#000" stroke-width="1.8" />
<line x1="952.5" y1="244.4" x2="967.5" y2="244.4" stroke="#000" stroke-width="1.8" />
<line x1="952.5" y1="262.4" x2="967.5" y2="262.4" stroke="#000" stroke-width="1.8" />
<circle cx="960" cy="253.6" r="8.0" fill="#000"/>
<line x1="1064.4" y1="233" x2="1064.4" y2="253.6" stroke="#000" stroke-width="1.8" />
<line x1="1056.9" y1="233" x2="1071.9" y2="233" stroke="#000" stroke-width="1.8" />
<line x1="1056.9" y1="253.6" x2="1071.9" y2="253.6" stroke="#000" stroke-width="1.8" />
<circle cx="1064.4" cy="244.6" r="8.0" fill="#000"/>
<line x1="1171" y1="213" x2="1171" y2="233.4" stroke="#000" stroke-width="1.8" />
<line x1="1163.5" y1="213" x2="1178.5" y2="213" stroke="#000" stroke-width="1.8" />
<line x1="1163.5" y1="233.4" x2="1178.5" y2="233.4" stroke="#000" stroke-width="1.8" />
<circle cx="1171" cy="222.4" r="8.0" fill="#000"/>
<line x1="1275" y1="218" x2="1275" y2="240" stroke="#000" stroke-width="1.8" />
<line x1="1267.5" y1="218" x2="1282.5" y2="218" stroke="#000" stroke-width="1.8" />
<line x1="1267.5" y1="240" x2="1282.5" y2="240" stroke="#000" stroke-width="1.8" />
<circle cx="1275" cy="229" r="8.0" fill="#000"/>
<line x1="1381" y1="224" x2="1381" y2="249.6" stroke="#000" stroke-width="1.8" />
<line x1="1373.5" y1="224" x2="1382.2" y2="224" stroke="#000" stroke-width="1.8" />
<line x1="1373.5" y1="249.6" x2="1382.2" y2="249.6" stroke="#000" stroke-width="1.8" />
<circle cx="1381" cy="238" r="8.0" fill="#000"/>
<text x="1328" y="168" font-size="28.5" text-anchor="start" font-weight="normal" font-style="normal" >Q</text>
<text x="1328" y="219.4" font-size="28.5" text-anchor="start" font-weight="normal" font-style="normal" >Q</text>
<text x="1123" y="85.6" font-size="32" text-anchor="middle" font-weight="normal" font-style="normal"  style="letter-spacing:0.27px">PS = 80 + 4.4T - 0&#8729;2T<tspan font-size="23" dy="-9">2</tspan><tspan dy="9" font-size="1">&#8203;</tspan></text>
<text x="1122.9" y="122.5" font-size="32" text-anchor="middle" font-weight="normal" font-style="normal" ><tspan font-style="italic">R</tspan><tspan font-style="italic" font-weight="bold" font-size="17" dx="2" dy="-9">2</tspan><tspan dy="9"> = 0</tspan><tspan dx="-0.9">&#8729;</tspan><tspan dx="-0.9">76</tspan></text>
<text x="1160.5" y="325" font-size="32" text-anchor="middle" font-weight="normal" font-style="normal"  style="letter-spacing:0.23px">LB = 59 + 4&#8729;4T - 0&#8729;2T<tspan font-size="23" dy="-9">2</tspan><tspan dy="9" font-size="1">&#8203;</tspan></text>
<text x="1160.5" y="363" font-size="32" text-anchor="middle" font-weight="normal" font-style="normal" ><tspan font-style="italic">R</tspan><tspan font-style="italic" font-weight="bold" font-size="17" dx="2" dy="-9">2</tspan><tspan dy="9"> = 0</tspan><tspan dx="-0.9">&#8729;</tspan><tspan dx="-0.9">55</tspan></text>
<text transform="translate(752.7,151.5) rotate(-90)" font-size="32" text-anchor="middle">ESC (g/kg)</text>
<text x="715" y="22.6" font-size="28" class="sans">(d)</text>
<line x1="1303.6" y1="752" x2="1303.6" y2="798.4" stroke="#8a8a8a" stroke-width="1.3" stroke-dasharray="5.5 3.5"/>
<line x1="1366" y1="629" x2="1366" y2="798.4" stroke="#8a8a8a" stroke-width="1.3" stroke-dasharray="5.5 3.5"/>
<line x1="856.4" y1="709.6" x2="1384" y2="625" stroke="#000" stroke-width="2.8" />
<path d="M856.4,783.31 L865.34,783.21 L874.28,783.05 L883.23,782.83 L892.17,782.54 L901.11,782.2 L910.05,781.8 L919,781.34 L927.94,780.84 L936.88,780.28 L945.82,779.69 L954.77,779.04 L963.71,778.36 L972.65,777.65 L981.59,776.89 L990.54,776.11 L999.48,775.3 L1008.42,774.46 L1017.36,773.6 L1026.31,772.71 L1035.25,771.81 L1044.19,770.9 L1053.13,769.97 L1062.07,769.03 L1071.02,768.09 L1079.96,767.14 L1088.9,766.19 L1097.84,765.24 L1106.79,764.29 L1115.73,763.35 L1124.67,762.42 L1133.61,761.51 L1142.56,760.61 L1151.5,759.72 L1160.44,758.86 L1169.38,758.02 L1178.33,757.2 L1187.27,756.42 L1196.21,755.66 L1205.15,754.94 L1214.09,754.26 L1223.04,753.61 L1231.98,753.01 L1240.92,752.45 L1249.86,751.94 L1258.81,751.48 L1267.75,751.08 L1276.69,750.73 L1285.63,750.44 L1294.58,750.21 L1303.52,750.04 L1312.46,749.94 L1321.4,749.92 L1330.35,749.96 L1339.29,750.08 L1348.23,750.28 L1357.17,750.55 L1366.12,750.91 L1375.06,751.36 L1384,751.9" fill="none" stroke="#000" stroke-width="2.4" stroke-linejoin="round"/>
<rect x="856.4" y="442" width="527.8" height="356.4" fill="none" stroke="#000" stroke-width="2.8"/>
<line x1="847" y1="442" x2="856.4" y2="442" stroke="#000" stroke-width="2.8" />
<text x="828.7" y="451.8" font-size="32" text-anchor="end" font-weight="normal" font-style="normal" >180</text>
<line x1="847" y1="481.6" x2="856.4" y2="481.6" stroke="#000" stroke-width="2.8" />
<text x="828.7" y="491.4" font-size="32" text-anchor="end" font-weight="normal" font-style="normal" >160</text>
<line x1="847" y1="521.2" x2="856.4" y2="521.2" stroke="#000" stroke-width="2.8" />
<text x="828.7" y="531" font-size="32" text-anchor="end" font-weight="normal" font-style="normal" >140</text>
<line x1="847" y1="560.8" x2="856.4" y2="560.8" stroke="#000" stroke-width="2.8" />
<text x="828.7" y="570.6" font-size="32" text-anchor="end" font-weight="normal" font-style="normal" >120</text>
<line x1="847" y1="600.4" x2="856.4" y2="600.4" stroke="#000" stroke-width="2.8" />
<text x="828.7" y="610.2" font-size="32" text-anchor="end" font-weight="normal" font-style="normal" >100</text>
<line x1="847" y1="640" x2="856.4" y2="640" stroke="#000" stroke-width="2.8" />
<text x="828.7" y="649.8" font-size="32" text-anchor="end" font-weight="normal" font-style="normal" >80</text>
<line x1="847" y1="679.6" x2="856.4" y2="679.6" stroke="#000" stroke-width="2.8" />
<text x="828.7" y="689.4" font-size="32" text-anchor="end" font-weight="normal" font-style="normal" >60</text>
<line x1="847" y1="719.2" x2="856.4" y2="719.2" stroke="#000" stroke-width="2.8" />
<text x="828.7" y="729" font-size="32" text-anchor="end" font-weight="normal" font-style="normal" >40</text>
<line x1="847" y1="758.8" x2="856.4" y2="758.8" stroke="#000" stroke-width="2.8" />
<text x="828.7" y="768.6" font-size="32" text-anchor="end" font-weight="normal" font-style="normal" >20</text>
<line x1="847" y1="798.4" x2="856.4" y2="798.4" stroke="#000" stroke-width="2.8" />
<text x="828.7" y="808.2" font-size="32" text-anchor="end" font-weight="normal" font-style="normal" >0</text>
<circle cx="856.4" cy="785.4" r="6.7" fill="none" stroke="#000" stroke-width="2.3"/>
<circle cx="960" cy="774" r="6.7" fill="none" stroke="#000" stroke-width="2.3"/>
<line x1="960" y1="769" x2="960" y2="779" stroke="#000" stroke-width="1.8" />
<line x1="952.5" y1="769" x2="967.5" y2="769" stroke="#000" stroke-width="1.8" />
<line x1="952.5" y1="779" x2="967.5" y2="779" stroke="#000" stroke-width="1.8" />
<circle cx="1066" cy="774.4" r="6.7" fill="none" stroke="#000" stroke-width="2.3"/>
<line x1="1066" y1="769.4" x2="1066" y2="779.4" stroke="#000" stroke-width="1.8" />
<line x1="1058.5" y1="769.4" x2="1073.5" y2="769.4" stroke="#000" stroke-width="1.8" />
<line x1="1058.5" y1="779.4" x2="1073.5" y2="779.4" stroke="#000" stroke-width="1.8" />
<circle cx="1173" cy="756" r="6.7" fill="none" stroke="#000" stroke-width="2.3"/>
<line x1="1173" y1="751" x2="1173" y2="761" stroke="#000" stroke-width="1.8" />
<line x1="1165.5" y1="751" x2="1180.5" y2="751" stroke="#000" stroke-width="1.8" />
<line x1="1165.5" y1="761" x2="1180.5" y2="761" stroke="#000" stroke-width="1.8" />
<circle cx="1277" cy="750" r="6.7" fill="none" stroke="#000" stroke-width="2.3"/>
<line x1="1277" y1="745" x2="1277" y2="755" stroke="#000" stroke-width="1.8" />
<line x1="1269.5" y1="745" x2="1284.5" y2="745" stroke="#000" stroke-width="1.8" />
<line x1="1269.5" y1="755" x2="1284.5" y2="755" stroke="#000" stroke-width="1.8" />
<circle cx="1384" cy="752.4" r="6.7" fill="none" stroke="#000" stroke-width="2.3"/>
<line x1="1384" y1="748.4" x2="1384" y2="756.4" stroke="#000" stroke-width="1.8" />
<line x1="1376.5" y1="748.4" x2="1385.4" y2="748.4" stroke="#000" stroke-width="1.8" />
<line x1="1376.5" y1="756.4" x2="1385.4" y2="756.4" stroke="#000" stroke-width="1.8" />
<circle cx="856.4" cy="717" r="8.0" fill="#000"/>
<circle cx="960" cy="699" r="8.0" fill="#000"/>
<line x1="1066" y1="665" x2="1066" y2="679" stroke="#000" stroke-width="1.8" />
<line x1="1058.5" y1="665" x2="1073.5" y2="665" stroke="#000" stroke-width="1.8" />
<line x1="1058.5" y1="679" x2="1073.5" y2="679" stroke="#000" stroke-width="1.8" />
<circle cx="1066" cy="672" r="8.0" fill="#000"/>
<line x1="1173" y1="643" x2="1173" y2="657" stroke="#000" stroke-width="1.8" />
<line x1="1165.5" y1="643" x2="1180.5" y2="643" stroke="#000" stroke-width="1.8" />
<line x1="1165.5" y1="657" x2="1180.5" y2="657" stroke="#000" stroke-width="1.8" />
<circle cx="1173" cy="650" r="8.0" fill="#000"/>
<line x1="1277" y1="630" x2="1277" y2="640" stroke="#000" stroke-width="1.8" />
<line x1="1269.5" y1="630" x2="1284.5" y2="630" stroke="#000" stroke-width="1.8" />
<line x1="1269.5" y1="640" x2="1284.5" y2="640" stroke="#000" stroke-width="1.8" />
<circle cx="1277" cy="635" r="8.0" fill="#000"/>
<circle cx="1384" cy="641" r="8.0" fill="#000"/>
<text x="1332" y="624" font-size="28.5" text-anchor="start" font-weight="normal" font-style="normal" >L</text>
<text x="1329" y="742" font-size="28.5" text-anchor="start" font-weight="normal" font-style="normal" >C</text>
<text x="1127.5" y="480" font-size="32" text-anchor="middle" font-weight="normal" font-style="normal"  style="letter-spacing:0.23px">LB = 45 + 2&#8729;8T</text>
<text x="1127.5" y="517" font-size="32" text-anchor="middle" font-weight="normal" font-style="normal" ><tspan font-style="italic">R</tspan><tspan font-style="italic" font-weight="bold" font-size="17" dx="2" dy="-9">2</tspan><tspan dy="9"> = 0</tspan><tspan dx="-0.9">&#8729;</tspan><tspan dx="-0.9">83</tspan></text>
<text x="1128.5" y="568.6" font-size="32" text-anchor="middle" font-weight="normal" font-style="normal" >PS = 8 + 0&#8729;3T + 0&#8729;23T<tspan font-size="23" dy="-9">2</tspan><tspan dy="9" font-size="1">&#8203;</tspan> - 0&#8729;012T<tspan font-size="23" dy="-9">3</tspan><tspan dy="9" font-size="1">&#8203;</tspan></text>
<text x="1129" y="606" font-size="32" text-anchor="middle" font-weight="normal" font-style="normal" ><tspan font-style="italic">R</tspan><tspan font-style="italic" font-weight="bold" font-size="17" dx="2" dy="-9">2</tspan><tspan dy="9"> = 0</tspan><tspan dx="-0.9">&#8729;</tspan><tspan dx="-0.9">91</tspan></text>
<text transform="translate(755.3,583) rotate(-90)" font-size="32" text-anchor="middle">Starch (g/kg)</text>
<text x="715" y="473" font-size="28" class="sans">(e)</text>
<line x1="1317" y1="869" x2="1317" y2="1179.2" stroke="#8a8a8a" stroke-width="1.3" stroke-dasharray="5.5 3.5"/>
<line x1="1352.4" y1="936" x2="1352.4" y2="1179.2" stroke="#8a8a8a" stroke-width="1.3" stroke-dasharray="5.5 3.5"/>
<path d="M856.4,983.15 L865.36,978.71 L874.32,974.36 L883.28,970.09 L892.24,965.92 L901.2,961.83 L910.16,957.82 L919.12,953.9 L928.07,950.07 L937.03,946.32 L945.99,942.66 L954.95,939.09 L963.91,935.6 L972.87,932.2 L981.83,928.89 L990.79,925.66 L999.75,922.52 L1008.71,919.46 L1017.67,916.49 L1026.63,913.61 L1035.59,910.81 L1044.55,908.1 L1053.51,905.48 L1062.46,902.94 L1071.42,900.49 L1080.38,898.12 L1089.34,895.84 L1098.3,893.65 L1107.26,891.54 L1116.22,889.52 L1125.18,887.59 L1134.14,885.74 L1143.1,883.98 L1152.06,882.31 L1161.02,880.72 L1169.98,879.22 L1178.94,877.8 L1187.89,876.47 L1196.85,875.23 L1205.81,874.07 L1214.77,873 L1223.73,872.02 L1232.69,871.12 L1241.65,870.31 L1250.61,869.59 L1259.57,868.95 L1268.53,868.39 L1277.49,867.93 L1286.45,867.55 L1295.41,867.26 L1304.37,867.05 L1313.33,866.93 L1322.28,866.89 L1331.24,866.94 L1340.2,867.08 L1349.16,867.31 L1358.12,867.62 L1367.08,868.02 L1376.04,868.5 L1385,869.07" fill="none" stroke="#000" stroke-width="2.4" stroke-linejoin="round"/>
<path d="M856.4,1013.9 L865.36,1010.67 L874.32,1007.51 L883.28,1004.42 L892.24,1001.4 L901.2,998.44 L910.16,995.55 L919.12,992.73 L928.07,989.97 L937.03,987.28 L945.99,984.66 L954.95,982.11 L963.91,979.63 L972.87,977.21 L981.83,974.86 L990.79,972.57 L999.75,970.36 L1008.71,968.21 L1017.67,966.13 L1026.63,964.12 L1035.59,962.17 L1044.55,960.29 L1053.51,958.48 L1062.46,956.74 L1071.42,955.06 L1080.38,953.45 L1089.34,951.91 L1098.3,950.43 L1107.26,949.03 L1116.22,947.69 L1125.18,946.41 L1134.14,945.21 L1143.1,944.07 L1152.06,943 L1161.02,942 L1169.98,941.07 L1178.94,940.2 L1187.89,939.4 L1196.85,938.66 L1205.81,938 L1214.77,937.4 L1223.73,936.87 L1232.69,936.41 L1241.65,936.01 L1250.61,935.68 L1259.57,935.42 L1268.53,935.23 L1277.49,935.1 L1286.45,935.04 L1295.41,935.05 L1304.37,935.13 L1313.33,935.27 L1322.28,935.48 L1331.24,935.76 L1340.2,936.1 L1349.16,936.52 L1358.12,937 L1367.08,937.54 L1376.04,938.16 L1385,938.84" fill="none" stroke="#000" stroke-width="2.4" stroke-linejoin="round"/>
<rect x="856.4" y="829.4" width="529.4" height="349.8" fill="none" stroke="#000" stroke-width="2.8"/>
<line x1="847" y1="829.4" x2="856.4" y2="829.4" stroke="#000" stroke-width="2.8" />
<text x="829.6" y="839.2" font-size="32" text-anchor="end" font-weight="normal" font-style="normal" >180</text>
<line x1="847" y1="868.27" x2="856.4" y2="868.27" stroke="#000" stroke-width="2.8" />
<text x="829.6" y="878.07" font-size="32" text-anchor="end" font-weight="normal" font-style="normal" >160</text>
<line x1="847" y1="907.13" x2="856.4" y2="907.13" stroke="#000" stroke-width="2.8" />
<text x="829.6" y="916.93" font-size="32" text-anchor="end" font-weight="normal" font-style="normal" >140</text>
<line x1="847" y1="946" x2="856.4" y2="946" stroke="#000" stroke-width="2.8" />
<text x="829.6" y="955.8" font-size="32" text-anchor="end" font-weight="normal" font-style="normal" >120</text>
<line x1="847" y1="984.87" x2="856.4" y2="984.87" stroke="#000" stroke-width="2.8" />
<text x="829.6" y="994.67" font-size="32" text-anchor="end" font-weight="normal" font-style="normal" >100</text>
<line x1="847" y1="1023.73" x2="856.4" y2="1023.73" stroke="#000" stroke-width="2.8" />
<text x="829.6" y="1033.53" font-size="32" text-anchor="end" font-weight="normal" font-style="normal" >80</text>
<line x1="847" y1="1062.6" x2="856.4" y2="1062.6" stroke="#000" stroke-width="2.8" />
<text x="829.6" y="1072.4" font-size="32" text-anchor="end" font-weight="normal" font-style="normal" >60</text>
<line x1="847" y1="1101.47" x2="856.4" y2="1101.47" stroke="#000" stroke-width="2.8" />
<text x="829.6" y="1111.27" font-size="32" text-anchor="end" font-weight="normal" font-style="normal" >40</text>
<line x1="847" y1="1140.33" x2="856.4" y2="1140.33" stroke="#000" stroke-width="2.8" />
<text x="829.6" y="1150.13" font-size="32" text-anchor="end" font-weight="normal" font-style="normal" >20</text>
<line x1="847" y1="1179.2" x2="856.4" y2="1179.2" stroke="#000" stroke-width="2.8" />
<text x="829.6" y="1189" font-size="32" text-anchor="end" font-weight="normal" font-style="normal" >0</text>
<text x="854.9" y="1229.4" font-size="32" text-anchor="middle" font-weight="normal" font-style="normal" >6</text>
<text x="962.9" y="1229.4" font-size="32" text-anchor="middle" font-weight="normal" font-style="normal" >9</text>
<text x="1068.5" y="1229.4" font-size="32" text-anchor="middle" font-weight="normal" font-style="normal" >12</text>
<text x="1174" y="1229.4" font-size="32" text-anchor="middle" font-weight="normal" font-style="normal" >15</text>
<text x="1280.5" y="1229.4" font-size="32" text-anchor="middle" font-weight="normal" font-style="normal" >18</text>
<text x="1383.2" y="1229.4" font-size="32" text-anchor="middle" font-weight="normal" font-style="normal" >21</text>
<circle cx="856.4" cy="1011" r="6.7" fill="none" stroke="#000" stroke-width="2.3"/>
<circle cx="962.4" cy="978.6" r="6.7" fill="none" stroke="#000" stroke-width="2.3"/>
<line x1="962.4" y1="974.6" x2="962.4" y2="982.6" stroke="#000" stroke-width="1.8" />
<line x1="954.9" y1="974.6" x2="969.9" y2="974.6" stroke="#000" stroke-width="1.8" />
<line x1="954.9" y1="982.6" x2="969.9" y2="982.6" stroke="#000" stroke-width="1.8" />
<circle cx="1069" cy="978.6" r="6.7" fill="none" stroke="#000" stroke-width="2.3"/>
<line x1="1069" y1="974.6" x2="1069" y2="982.6" stroke="#000" stroke-width="1.8" />
<line x1="1061.5" y1="974.6" x2="1076.5" y2="974.6" stroke="#000" stroke-width="1.8" />
<line x1="1061.5" y1="982.6" x2="1076.5" y2="982.6" stroke="#000" stroke-width="1.8" />
<circle cx="1175.4" cy="925" r="6.7" fill="none" stroke="#000" stroke-width="2.3"/>
<line x1="1175.4" y1="921" x2="1175.4" y2="929" stroke="#000" stroke-width="1.8" />
<line x1="1167.9" y1="921" x2="1182.9" y2="921" stroke="#000" stroke-width="1.8" />
<line x1="1167.9" y1="929" x2="1182.9" y2="929" stroke="#000" stroke-width="1.8" />
<circle cx="1279" cy="926" r="6.7" fill="none" stroke="#000" stroke-width="2.3"/>
<line x1="1279" y1="920" x2="1279" y2="932" stroke="#000" stroke-width="1.8" />
<line x1="1271.5" y1="920" x2="1286.5" y2="920" stroke="#000" stroke-width="1.8" />
<line x1="1271.5" y1="932" x2="1286.5" y2="932" stroke="#000" stroke-width="1.8" />
<circle cx="1385.6" cy="945" r="6.7" fill="none" stroke="#000" stroke-width="2.3"/>
<line x1="856.4" y1="964.4" x2="856.4" y2="991" stroke="#000" stroke-width="1.8" />
<line x1="848.9" y1="964.4" x2="863.9" y2="964.4" stroke="#000" stroke-width="1.8" />
<line x1="848.9" y1="991" x2="863.9" y2="991" stroke="#000" stroke-width="1.8" />
<circle cx="856.4" cy="978" r="8.0" fill="#000"/>
<line x1="962.4" y1="933.6" x2="962.4" y2="957.6" stroke="#000" stroke-width="1.8" />
<line x1="954.9" y1="933.6" x2="969.9" y2="933.6" stroke="#000" stroke-width="1.8" />
<line x1="954.9" y1="957.6" x2="969.9" y2="957.6" stroke="#000" stroke-width="1.8" />
<circle cx="962.4" cy="945" r="8.0" fill="#000"/>
<line x1="1069" y1="898" x2="1069" y2="923" stroke="#000" stroke-width="1.8" />
<line x1="1061.5" y1="898" x2="1076.5" y2="898" stroke="#000" stroke-width="1.8" />
<line x1="1061.5" y1="923" x2="1076.5" y2="923" stroke="#000" stroke-width="1.8" />
<circle cx="1069" cy="912" r="8.0" fill="#000"/>
<line x1="1175.4" y1="857.6" x2="1175.4" y2="883" stroke="#000" stroke-width="1.8" />
<line x1="1167.9" y1="857.6" x2="1182.9" y2="857.6" stroke="#000" stroke-width="1.8" />
<line x1="1167.9" y1="883" x2="1182.9" y2="883" stroke="#000" stroke-width="1.8" />
<circle cx="1175.4" cy="871" r="8.0" fill="#000"/>
<line x1="1279" y1="845" x2="1279" y2="868" stroke="#000" stroke-width="1.8" />
<line x1="1271.5" y1="845" x2="1286.5" y2="845" stroke="#000" stroke-width="1.8" />
<line x1="1271.5" y1="868" x2="1286.5" y2="868" stroke="#000" stroke-width="1.8" />
<circle cx="1279" cy="856.6" r="8.0" fill="#000"/>
<line x1="1385.6" y1="865" x2="1385.6" y2="891.6" stroke="#000" stroke-width="1.8" />
<line x1="1378.1" y1="865" x2="1387" y2="865" stroke="#000" stroke-width="1.8" />
<line x1="1378.1" y1="891.6" x2="1387" y2="891.6" stroke="#000" stroke-width="1.8" />
<circle cx="1385.6" cy="879" r="8.0" fill="#000"/>
<text x="1329" y="855" font-size="28.5" text-anchor="start" font-weight="normal" font-style="normal" >Q</text>
<text x="1329" y="926" font-size="28.5" text-anchor="start" font-weight="normal" font-style="normal" >Q</text>
<text x="1151" y="1023" font-size="32" text-anchor="middle" font-weight="normal" font-style="normal"  style="letter-spacing:0.17px">LB = 100 + 9&#8729;4T - 0&#8729;4T<tspan font-size="23" dy="-9">2</tspan><tspan dy="9" font-size="1">&#8203;</tspan></text>
<text x="1149" y="1060" font-size="32" text-anchor="middle" font-weight="normal" font-style="normal" ><tspan font-style="italic">R</tspan><tspan font-style="italic" font-weight="bold" font-size="17" dx="2" dy="-9">2</tspan><tspan dy="9"> = 0</tspan><tspan dx="-0.9">&#8729;</tspan><tspan dx="-0.9">84</tspan></text>
<text x="1147.5" y="1116" font-size="32" text-anchor="middle" font-weight="normal" font-style="normal"  style="letter-spacing:0.27px">PS = 85 + 6&#8729;7T - 0&#8729;3T<tspan font-size="23" dy="-9">2</tspan><tspan dy="9" font-size="1">&#8203;</tspan></text>
<text x="1147" y="1154" font-size="32" text-anchor="middle" font-weight="normal" font-style="normal" ><tspan font-style="italic">R</tspan><tspan font-style="italic" font-weight="bold" font-size="17" dx="2" dy="-9">2</tspan><tspan dy="9"> = 0</tspan><tspan dx="-0.9">&#8729;</tspan><tspan dx="-0.9">84</tspan></text>
<text transform="translate(755.8,976) rotate(-90)" font-size="32" text-anchor="middle">NSC (g/kg)</text>
<text x="715" y="851.3" font-size="28" class="sans">(f)</text>
<text x="399.7" y="1275.6" font-size="32" text-anchor="middle" font-weight="bold" font-style="normal"  style="letter-spacing:0.15px">Hour of day</text>
<line x1="128" y1="1283.6" x2="674.5" y2="1283.6" stroke="#000" stroke-width="2.8" />
<text x="136.6" y="1315.2" font-size="32" text-anchor="middle" font-weight="normal" font-style="normal" >0</text>
<text x="242.3" y="1315.2" font-size="32" text-anchor="middle" font-weight="normal" font-style="normal" >3</text>
<text x="347" y="1315.2" font-size="32" text-anchor="middle" font-weight="normal" font-style="normal" >6</text>
<text x="453.6" y="1315.2" font-size="32" text-anchor="middle" font-weight="normal" font-style="normal" >9</text>
<text x="549.8" y="1315.2" font-size="32" text-anchor="middle" font-weight="normal" font-style="normal" >12</text>
<text x="654.8" y="1315.2" font-size="32" text-anchor="middle" font-weight="normal" font-style="normal" >15</text>
<text x="406.5" y="1350.6" font-size="32" text-anchor="middle" font-weight="normal" font-style="normal"  style="letter-spacing:0.19px">Time after sunrise (T)</text>
<text x="1122.2" y="1273.2" font-size="32" text-anchor="middle" font-weight="bold" font-style="normal"  style="letter-spacing:0.15px">Hour of day</text>
<line x1="855" y1="1283.2" x2="1398" y2="1283.2" stroke="#000" stroke-width="2.8" />
<text x="853.5" y="1314.8" font-size="32" text-anchor="middle" font-weight="normal" font-style="normal" >0</text>
<text x="960" y="1314.8" font-size="32" text-anchor="middle" font-weight="normal" font-style="normal" >3</text>
<text x="1065" y="1314.8" font-size="32" text-anchor="middle" font-weight="normal" font-style="normal" >6</text>
<text x="1170" y="1314.8" font-size="32" text-anchor="middle" font-weight="normal" font-style="normal" >9</text>
<text x="1277" y="1314.8" font-size="32" text-anchor="middle" font-weight="normal" font-style="normal" >12</text>
<text x="1382.5" y="1314.8" font-size="32" text-anchor="middle" font-weight="normal" font-style="normal" >15</text>
<text x="1130.5" y="1351" font-size="32" text-anchor="middle" font-weight="normal" font-style="normal"  style="letter-spacing:0.19px">Time after sunrise (T)</text>
</svg>
</body>
</html>
